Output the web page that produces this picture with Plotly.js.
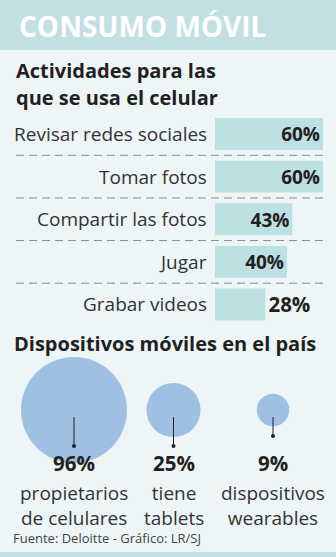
<!DOCTYPE html>
<html>
<head>
<meta charset="utf-8">
<script src="https://cdn.plot.ly/plotly-3.0.1.min.js"></script>
<style>html,body{margin:0;padding:0;background:#eef5f6;}#chart{width:336px;height:557px;}</style>
</head>
<body>
<div id="chart"></div>
<script>
// ---- Data ----
var activityLabels = ["Revisar redes sociales", "Tomar fotos", "Compartir las fotos", "Jugar", "Grabar videos"];
var activityValues = [60, 60, 43, 40, 28];
var deviceKeys = ["cel", "tab", "wear"];
var deviceValues = [96, 25, 9];
var deviceLabels = ["propietarios<br>de celulares", "tiene<br>tablets", "dispositivos<br>wearables"];

var W = 336, H = 557;
function py(p) { return 1 - p / H; }
function px(p) { return p / W; }

var FONT = "Open Sans, sans-serif";
var DARK = "#231f20";

var barTextPos = activityValues.map(function (v) { return v >= 35 ? "inside" : "outside"; });
var valFont = { family: FONT, size: 20.5, color: DARK, weight: 700 };

var traces = [
  {
    type: "bar",
    orientation: "h",
    x: activityValues,
    y: activityLabels,
    xaxis: "x",
    yaxis: "y",
    marker: { color: "#bde0e2" },
    text: activityValues.map(function (v) { return v + "%"; }),
    textposition: barTextPos,
    insidetextanchor: "end",
    textfont: valFont,
    outsidetextfont: valFont,
    insidetextfont: valFont,
    cliponaxis: false,
    hoverinfo: "skip"
  },
  {
    type: "scatter",
    mode: "markers",
    x: deviceKeys,
    y: deviceKeys.map(function () { return 0.5; }),
    xaxis: "x2",
    yaxis: "y2",
    marker: {
      size: deviceValues,
      sizemode: "area",
      sizeref: 2 * 96 / (106 * 106),
      color: "#9fbfe3",
      opacity: 1,
      line: { width: 0 }
    },
    cliponaxis: false,
    hoverinfo: "skip"
  }
];

var shapes = [
  { type: "rect", xref: "paper", yref: "paper", x0: 0, x1: 1, y0: py(50), y1: 1, fillcolor: "#c2e0e2", line: { width: 0 }, layer: "below" },
  { type: "rect", xref: "paper", yref: "paper", x0: 0, x1: 1, y0: 0, y1: py(552), fillcolor: "#c2e0e2", line: { width: 0 }, layer: "below" }
];
for (var i = 0; i < activityLabels.length - 1; i++) {
  shapes.push({
    type: "line", xref: "paper", yref: "y",
    x0: px(16), x1: px(323), y0: i + 0.5, y1: i + 0.5,
    line: { color: "#8a8a8a", width: 1, dash: "8px,5px" }
  });
}
// leader lines + dots
var leaderEnd = [0.14, 0.14, 0.24];
for (var j = 0; j < deviceKeys.length; j++) {
  shapes.push({ type: "line", xref: "x2", yref: "y2", x0: j, x1: j, y0: 0.43, y1: leaderEnd[j], line: { color: "#222", width: 1 } });
  shapes.push({ type: "circle", xref: "x2", yref: "y2", xsizemode: "pixel", ysizemode: "pixel", xanchor: j, yanchor: leaderEnd[j], x0: -2, x1: 2, y0: -2, y1: 2, fillcolor: "#222", line: { width: 0 } });
}

var annotations = [
  { text: "CONSUMO MÓVIL", xref: "paper", yref: "paper", x: px(17), y: py(26), xanchor: "left", yanchor: "middle", showarrow: false, font: { family: FONT, size: 28, color: "#ffffff", weight: 700 } },
  { text: "Actividades para las", xref: "paper", yref: "paper", x: px(14), y: py(70), xanchor: "left", yanchor: "middle", showarrow: false, font: { family: FONT, size: 20, color: DARK, weight: 700 } },
  { text: "que se usa el celular", xref: "paper", yref: "paper", x: px(14), y: py(97.5), xanchor: "left", yanchor: "middle", showarrow: false, font: { family: FONT, size: 20, color: DARK, weight: 700 } },
  { text: "Dispositivos móviles en el país", xref: "paper", yref: "paper", x: px(12), y: py(343), xanchor: "left", yanchor: "middle", showarrow: false, font: { family: FONT, size: 20, color: DARK, weight: 700 } },
  { text: "Fuente: Deloitte - Gráfico: LR/SJ", xref: "paper", yref: "paper", x: px(11), y: py(538), xanchor: "left", yanchor: "middle", showarrow: false, font: { family: FONT, size: 13, color: "#444" } }
];
activityLabels.forEach(function (lab) {
  annotations.push({ text: lab, xref: "paper", yref: "y", x: px(209), y: lab, xanchor: "right", yanchor: "middle", showarrow: false, font: { family: FONT, size: 19, color: "#333" } });
});
deviceKeys.forEach(function (k, idx) {
  annotations.push({ text: deviceValues[idx] + "%", xref: "x2", yref: "paper", x: k, y: py(463), xanchor: "center", yanchor: "middle", showarrow: false, font: { family: FONT, size: 20.5, color: DARK, weight: 700 } });
  annotations.push({ text: deviceLabels[idx], xref: "x2", yref: "paper", x: k, y: py(477.5), xanchor: "center", yanchor: "top", align: "center", showarrow: false, font: { family: FONT, size: 19, color: "#333" } });
});

var layout = {
  width: W, height: H,
  margin: { l: 0, r: 0, t: 0, b: 0, pad: 0 },
  paper_bgcolor: "#eef5f6",
  plot_bgcolor: "rgba(0,0,0,0)",
  showlegend: false,
  bargap: 0.25,
  xaxis: { domain: [px(215), 1], range: [0, 60 * (W - 215) / 108], visible: false, fixedrange: true },
  yaxis: { domain: [py(325.8), py(112.7)], range: [4.5, -0.5], type: "category", visible: false, fixedrange: true },
  xaxis2: { domain: [px(24.25), px(322.75)], range: [-0.5, 2.5], type: "category", visible: false, anchor: "y2", fixedrange: true },
  yaxis2: { domain: [py(460), py(360)], range: [0, 1], visible: false, anchor: "x2", fixedrange: true },
  shapes: shapes,
  annotations: annotations
};

Plotly.newPlot("chart", traces, layout, { displayModeBar: false, staticPlot: true });
</script>
</body>
</html>
